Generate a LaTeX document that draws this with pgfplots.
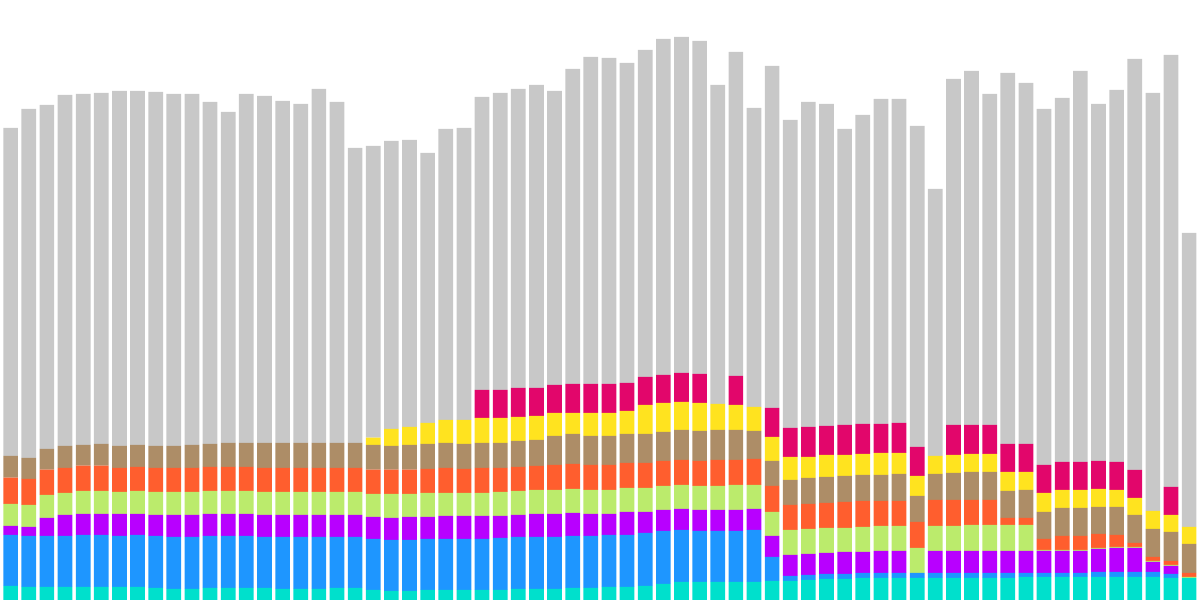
\documentclass[border=0pt]{standalone}
\usepackage{pgfplots}
\usepackage{pgfplotstable}
\pgfplotsset{compat=1.18}
\definecolor{cteal}{RGB}{0,224,204}
\definecolor{cblue}{RGB}{30,150,255}
\definecolor{cpurple}{RGB}{184,0,255}
\definecolor{cgreen}{RGB}{187,235,108}
\definecolor{corange}{RGB}{255,94,46}
\definecolor{ctan}{RGB}{173,141,103}
\definecolor{cyellow}{RGB}{255,227,31}
\definecolor{cmagenta}{RGB}{226,6,107}
\definecolor{cgray}{RGB}{200,200,200}
\pgfplotstableread{
x teal blue purple green orange tan yellow magenta gray
0 14 51 9 22 26.3 21.7 0 0 328
1 13 51 9 22 26 21 0 0 349
2 13 51 18 23 25.3 20.7 0 0 344
3 13 51 21 22 25 22 0 0 351
4 13 52 21 23 25.3 20.7 0 0 351
5 13 52 21 23 25.3 21.7 0 0 351
6 13 51 22 22 24 22 0 0 355
7 13 52 21 23 24 22 0 0 354
8 12 52 21 23 24 22 0 0 354
9 11 52 22 23 24 22 0 0 352
10 11 52 22 23 24 23 0 0 351
11 12 52 22 23 24 23 0 0 342
12 12 52 22 23 24 24 0 0 331
13 12 52 22 23 24 24 0 0 349
14 12 51 22 23 24 25 0 0 347
15 11 52 22 23 24 25 0 0 342
16 11 52 22 23 24 25 0 0 339
17 11 52 22 23 24 25 0 0 354
18 12 51 22 23 24 25 0 0 341
19 12 51 22 23 24 25 0 0 295
20 10 51 22 23 24.3 24.7 7.3 0 291.7
21 9 51 22 24 24.3 23.7 17 0 288
22 9 51 23 23 24.3 24.7 18 0 287
23 10 51 22 24 24 25 21 0 270
24 10 51 23 23 25 25 23 0 291
25 10 51 23 23 24 25 24 0 292
26 10 51 23 23 25 25 25 28 293
27 10 52 22 24 24 25 25 28 297
28 11 52 22 24 24 26 24 29 299
29 11 52 23 24 24 26 24 28 303
30 11 52 23 24 25 29 23 28 294
31 12 52 23 24 25 30 21 29 315
32 12 52 22 24 25 29 23 29 327
33 13 52 21 24 25 29 23 29 326
34 13 52 23 24 25 29 23 28 320
35 14 53 21 24 25 29 29 28 327
36 16 53 21 24 25 29 29 28 336
37 18 52 21 24 25 30 28 29 336
38 18 51 21 24 25 30 28 29 333
39 18 51 21 24 26 30 26 0 319
40 18 51 21 25 25 30 25 29 324
41 18 52 21 24 26 28 24 0 299
42 19 24 21 24 26 25 24 29 342
43 19 5 21 25 25 25 23 29 308
44 20 5 21 25 25 26 21 30 325
45 21 5 21 25 25 26 22 29 322
46 21 5 22 24 26 26 21 30 296
47 22 5 21 25 26 26 21 30 309
48 22 5 22 25 25 26 22 29 325
49 22 5 22 25 25 27 21 30 324
50 22 5 0 25 26 26 20 29 321
51 22 5 22 25 26 26 18 0 267
52 22 5 22 25 26 27 18 30 346
53 22 5 22 26 25 28 18 29 354
54 22 5 22 26 25 28 18 29 331
55 22 5 22 26 7 27 19 28 371
56 23 4 22 26 7 28 18 28 361
57 23 4 22 1 11 27 19 28 356
58 23 4 22 1 14 28 18 28 364
59 23 4 22 1 14 28 18 28 391
60 23 5 23 1 14 27 18 28 357
61 23 5 24 1 12 28 17 28 372
62 23 5 24 1 4 28 17 28 411
63 23 5 10 1 4 28 18 0 418
64 22 4 8 1 4 29 17 28 432
65 22 0 0 1 4 29 17 0 294
}\datatable
\begin{document}
\begin{tikzpicture}
\begin{axis}[
  scale only axis,
  width=600pt, height=300pt,
  xmin=-0.587, xmax=65.60,
  ymin=0, ymax=600,
  hide axis,
  ybar stacked,
  bar width=0.81,
  every axis plot/.append style={draw=none},
]
\addplot[fill=cteal] table[x=x,y=teal]{\datatable};
\addplot[fill=cblue] table[x=x,y=blue]{\datatable};
\addplot[fill=cpurple] table[x=x,y=purple]{\datatable};
\addplot[fill=cgreen] table[x=x,y=green]{\datatable};
\addplot[fill=corange] table[x=x,y=orange]{\datatable};
\addplot[fill=ctan] table[x=x,y=tan]{\datatable};
\addplot[fill=cyellow] table[x=x,y=yellow]{\datatable};
\addplot[fill=cmagenta] table[x=x,y=magenta]{\datatable};
\addplot[fill=cgray] table[x=x,y=gray]{\datatable};
\end{axis}
\pgfresetboundingbox
\path (current axis.south west) rectangle (current axis.north east);
\end{tikzpicture}
\end{document}
